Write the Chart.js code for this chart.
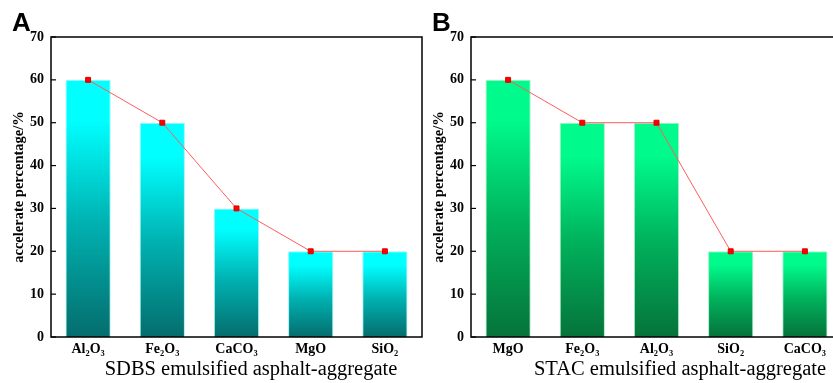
<!DOCTYPE html>
<html>
<head>
<meta charset="utf-8">
<script src="https://cdn.jsdelivr.net/npm/chart.js@4/dist/chart.umd.min.js"></script>
<style>
    html, body { margin: 0; padding: 0; background: #fff; }
    #wrap { position: relative; width: 833px; height: 383px; overflow: hidden; }
    canvas { position: absolute; top: 0; }
    #chartA { left: 0; }
    #chartB { left: 420px; }
</style>
</head>
<body>
<div id="wrap">
    <canvas id="chartA" width="430" height="383"></canvas>
    <canvas id="chartB" width="430" height="383"></canvas>
</div>
<script>
// Panel A: SDBS emulsified
const labelsA = ['Al\u2082O\u2083', 'Fe\u2082O\u2083', 'CaCO\u2083', 'MgO', 'SiO\u2082'];
const valuesA = [60, 50, 30, 20, 20];

// Panel B: STAC emulsified
const labelsB = ['MgO', 'Fe\u2082O\u2083', 'Al\u2082O\u2083', 'SiO\u2082', 'CaCO\u2083'];
const valuesB = [60, 50, 50, 20, 20];

const yTicks = [0, 10, 20, 30, 40, 50, 60, 70];

const SERIF = '"Liberation Serif", "Times New Roman", serif';

// frame round the plot, inward ticks, panel letter and x title
const decorPlugin = {
    id: 'decor',
    afterDraw(chart, args, opts) {
        const { ctx, chartArea: ca, scales } = chart;
        ctx.save();
        ctx.strokeStyle = '#000';
        ctx.lineWidth = 1.5;
        ctx.strokeRect(ca.left, ca.top, ca.right - ca.left, ca.bottom - ca.top);

        ctx.lineWidth = 1.2;
        yTicks.forEach(v => {
            const y = scales.y.getPixelForValue(v);
            ctx.beginPath();
            ctx.moveTo(ca.left, y);
            ctx.lineTo(ca.left + 5, y);
            ctx.stroke();
        });

        ctx.fillStyle = '#000';
        ctx.font = 'bold 26px "Liberation Sans", Arial, sans-serif';
        ctx.textAlign = 'left';
        ctx.textBaseline = 'alphabetic';
        ctx.fillText(opts.letter, 12, 31);

        ctx.font = '20.5px ' + SERIF;
        ctx.textAlign = 'center';
        ctx.fillText(opts.xTitle, opts.xTitleCenter, 375);
        ctx.restore();
    }
};

function barFill(top, bottom) {
    return (context) => {
        const chart = context.chart;
        if (!chart.chartArea) return top;
        const y = chart.scales.y;
        const y0 = y.getPixelForValue(0);
        const y1 = y.getPixelForValue(context.raw);
        const g = chart.ctx.createLinearGradient(0, y1, 0, y0);
        g.addColorStop(0, top[0]);
        g.addColorStop(0.16, top[0]);
        g.addColorStop(0.55, top[1]);
        g.addColorStop(1, bottom);
        return g;
    };
}

function makeChart(id, labels, values, colors, letter, xTitle, xTitleCenter) {
    return new Chart(document.getElementById(id), {
        type: 'bar',
        data: {
            labels: labels,
            datasets: [
                {
                    type: 'line',
                    data: values,
                    borderColor: '#ff5c5c',
                    borderWidth: 1,
                    pointStyle: 'rect',
                    pointRadius: 3.5,
                    pointBackgroundColor: '#ff0000',
                    pointBorderColor: '#e00000',
                    pointBorderWidth: 1,
                    order: 0
                },
                {
                    data: values,
                    backgroundColor: barFill(colors.top, colors.bottom),
                    borderColor: colors.border,
                    borderWidth: 1,
                    barPercentage: 0.61,
                    categoryPercentage: 1,
                    order: 1
                }
            ]
        },
        options: {
            responsive: false,
            animation: false,
            devicePixelRatio: 1,
            layout: { padding: { top: 37, right: 8, left: 0, bottom: 0 } },
            plugins: {
                legend: { display: false },
                tooltip: { enabled: false },
                decor: { letter: letter, xTitle: xTitle, xTitleCenter: xTitleCenter }
            },
            scales: {
                x: {
                    grid: { display: false, drawTicks: false },
                    border: { display: false },
                    ticks: {
                        color: '#000',
                        padding: 4,
                        font: { family: SERIF, weight: 'bold', size: 14 }
                    },
                    afterFit: (scale) => { scale.height = 46; }
                },
                y: {
                    min: 0,
                    max: 70,
                    grid: { display: false, drawTicks: false },
                    border: { display: false },
                    afterBuildTicks: (scale) => { scale.ticks = yTicks.map(v => ({ value: v })); },
                    ticks: {
                        color: '#000',
                        padding: 7,
                        font: { family: SERIF, weight: 'bold', size: 14 }
                    },
                    title: {
                        display: true,
                        text: 'accelerate percentage/%',
                        color: '#000',
                        padding: { top: 11, bottom: 0 },
                        font: { family: SERIF, weight: 'bold', size: 14.5 }
                    },
                    afterFit: (scale) => { scale.width = 51; }
                }
            }
        },
        plugins: [decorPlugin]
    });
}

makeChart('chartA', labelsA, valuesA,
    { top: ['#00ffff', '#00b2b2'], bottom: '#056d6d', border: '#9ef5f5' },
    'A', 'SDBS emulsified asphalt-aggregate', 251);

makeChart('chartB', labelsB, valuesB,
    { top: ['#00fa8c', '#00b25c'], bottom: '#06733a', border: '#a8f0c8' },
    'B', 'STAC emulsified asphalt-aggregate', 260);
</script>
</body>
</html>
